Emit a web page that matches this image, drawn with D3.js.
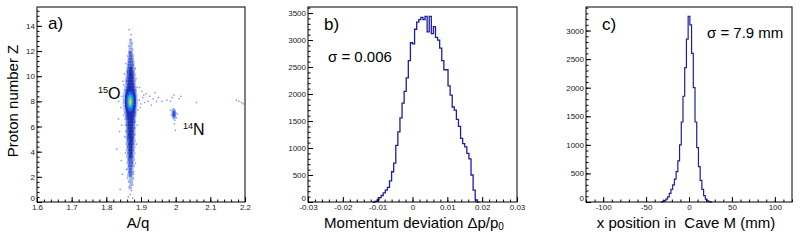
<!DOCTYPE html>
<html>
<head>
<meta charset="utf-8">
<script src="https://cdn.jsdelivr.net/npm/d3@7"></script>
<style>
  body { margin: 0; background: white; }
  svg { display: block; font-family: "Liberation Sans", Arial, sans-serif; }
</style>
</head>
<body>
<div id="my_dataviz"></div>
<script>
// ---------- data ----------

// a) particle identification, stripe of 15O drawn as rows [Z low edge, A/q left, A/q right]
const stripePale = [
  [1.00, 1.864, 1.874], [1.25, 1.866, 1.878], [1.50, 1.862, 1.876], [1.75, 1.865, 1.880],
  [2.00, 1.860, 1.877], [2.25, 1.862, 1.881], [2.50, 1.859, 1.879], [2.75, 1.861, 1.882],
  [3.00, 1.858, 1.880], [3.25, 1.860, 1.883], [3.50, 1.857, 1.881], [3.75, 1.859, 1.884],
  [4.00, 1.856, 1.882], [4.25, 1.858, 1.884], [4.50, 1.855, 1.883], [4.75, 1.857, 1.885],
  [5.00, 1.855, 1.883], [5.25, 1.856, 1.885], [5.50, 1.854, 1.884], [5.75, 1.856, 1.886],
  [6.00, 1.853, 1.884], [6.25, 1.855, 1.886], [6.50, 1.852, 1.885], [6.75, 1.853, 1.887],
  [7.00, 1.850, 1.888], [7.25, 1.849, 1.889], [7.50, 1.848, 1.890], [7.75, 1.847, 1.891],
  [8.00, 1.847, 1.891], [8.25, 1.848, 1.890], [8.50, 1.849, 1.889], [8.75, 1.850, 1.888],
  [9.00, 1.852, 1.887], [9.25, 1.854, 1.885], [9.50, 1.853, 1.886], [9.75, 1.855, 1.884],
  [10.00, 1.856, 1.885], [10.25, 1.857, 1.883], [10.50, 1.858, 1.884], [10.75, 1.859, 1.881],
  [11.00, 1.860, 1.882], [11.25, 1.861, 1.879], [11.50, 1.862, 1.880], [11.75, 1.863, 1.877],
  [12.00, 1.864, 1.878], [12.25, 1.865, 1.875], [12.50, 1.866, 1.876], [12.75, 1.867, 1.874]
];
const stripeMid = [
  [2.00, 1.866, 1.873], [2.25, 1.864, 1.875], [2.50, 1.865, 1.874], [2.75, 1.863, 1.876],
  [3.00, 1.864, 1.877], [3.25, 1.862, 1.876], [3.50, 1.863, 1.878], [3.75, 1.861, 1.877],
  [4.00, 1.862, 1.879], [4.25, 1.860, 1.878], [4.50, 1.861, 1.880], [4.75, 1.860, 1.879],
  [5.00, 1.859, 1.880], [5.25, 1.860, 1.881], [5.50, 1.858, 1.880], [5.75, 1.859, 1.882],
  [6.00, 1.857, 1.881], [6.25, 1.858, 1.883], [6.50, 1.856, 1.882], [6.75, 1.856, 1.884],
  [7.00, 1.855, 1.885], [7.25, 1.855, 1.885], [7.50, 1.854, 1.886], [7.75, 1.854, 1.886],
  [8.00, 1.854, 1.886], [8.25, 1.854, 1.886], [8.50, 1.855, 1.885], [8.75, 1.855, 1.885],
  [9.00, 1.857, 1.883], [9.25, 1.858, 1.882], [9.50, 1.857, 1.881], [9.75, 1.859, 1.881],
  [10.00, 1.860, 1.880], [10.25, 1.859, 1.879], [10.50, 1.861, 1.878], [10.75, 1.862, 1.879],
  [11.00, 1.863, 1.877], [11.25, 1.864, 1.876], [11.50, 1.866, 1.875], [11.75, 1.865, 1.873]
];
const stripeDark = [
  [3.50, 1.866, 1.873], [3.75, 1.867, 1.874], [4.00, 1.865, 1.874], [4.25, 1.866, 1.875],
  [4.50, 1.864, 1.875], [4.75, 1.866, 1.876], [5.00, 1.864, 1.876], [5.25, 1.863, 1.875],
  [5.50, 1.864, 1.877], [5.75, 1.863, 1.876], [6.00, 1.862, 1.877], [6.25, 1.863, 1.878],
  [6.50, 1.861, 1.878], [6.75, 1.860, 1.879], [7.00, 1.859, 1.881], [7.25, 1.859, 1.881],
  [7.50, 1.858, 1.881], [7.75, 1.858, 1.882], [8.00, 1.858, 1.882], [8.25, 1.858, 1.881],
  [8.50, 1.859, 1.881], [8.75, 1.859, 1.880], [9.00, 1.861, 1.879], [9.25, 1.862, 1.878],
  [9.50, 1.863, 1.877], [9.75, 1.864, 1.877], [10.00, 1.865, 1.876], [10.25, 1.866, 1.875],
  [10.50, 1.867, 1.874]
];
// hot spots [A/q, Z, half width A/q, half height Z, colour]
const hotSpots = [
  [1.869, 8.0, 0.016, 1.10, "#1a30c0"],
  [1.869, 8.0, 0.011, 0.80, "#2466e0"],
  [1.869, 8.0, 0.0075, 0.55, "#20b4e8"],
  [1.869, 8.0, 0.0045, 0.35, "#78d070"],
  [1.869, 7.95, 0.002, 0.20, "#f0e040"],
  [1.995, 7.0, 0.007, 0.45, "#8a9ee8"],
  [1.995, 7.0, 0.004, 0.25, "#3552d6"]
];
// single sparse counts [A/q, Z]
const sparsePoints = [
  [1.866, 13.7], [1.871, 13.3], [1.869, 12.9], [1.874, 12.6], [1.864, 12.4], [1.872, 12.2],
  [1.861, 11.6], [1.877, 11.4], [1.856, 11.0], [1.883, 10.6], [1.852, 10.2], [1.886, 9.8],
  [1.850, 9.3], [1.889, 9.1], [1.866, 1.2], [1.872, 0.9], [1.869, 0.6], [1.863, 0.4],
  [1.876, 0.3], [1.874, 1.6], [1.861, 1.9], [1.878, 2.2], [1.858, 2.6], [1.884, 3.1],
  [1.855, 3.9], [1.887, 4.6], [1.853, 5.2], [1.889, 6.1], [1.850, 6.9], [1.892, 7.3],
  [1.835, 6.6], [1.838, 5.6], [1.842, 7.5], [1.845, 8.4], [1.836, 8.0], [1.830, 4.2],
  [1.843, 3.3], [1.846, 2.2], [1.840, 1.0], [1.848, 9.6], [1.844, 6.1],
  [1.895, 8.1], [1.900, 7.8], [1.905, 8.3], [1.910, 7.9], [1.915, 8.6], [1.920, 8.0],
  [1.925, 8.4], [1.930, 7.7], [1.935, 8.2], [1.940, 8.7], [1.945, 8.0], [1.950, 8.3],
  [1.898, 7.5], [1.902, 8.8], [1.908, 8.5], [1.896, 9.1], [1.960, 8.0],
  [1.975, 8.1], [1.985, 8.0], [1.990, 8.3], [1.995, 8.5], [2.010, 8.2], [2.015, 8.4],
  [1.990, 7.2], [1.995, 6.8], [2.000, 7.1], [1.988, 6.9], [2.002, 6.7], [1.993, 7.4],
  [1.998, 6.5], [2.005, 7.0], [1.985, 7.3], [1.996, 6.2], [1.999, 5.7], [2.060, 7.9],
  [2.175, 8.1], [2.182, 8.0], [2.190, 7.9], [2.195, 7.8]
];

// b) momentum deviation histogram, 0.0006 wide bins from -0.0114
const momBinStart = -0.0114;
const momBinWidth = 0.0006;
const momCounts = [
  0, 10, 40, 80, 120, 170, 220, 270, 390, 560,
  720, 1050, 1300, 1560, 1830, 2050, 2300, 2620, 2950, 2930,
  3200, 3330, 3380, 3420, 3380, 3440, 3150, 3440, 3120, 3250,
  3050, 3000, 2850, 2620, 2450, 2450, 2150, 1980, 1760, 1700,
  1530, 1400, 1180, 1080, 1020, 900, 800, 500, 220, 40,
  0
];

// c) x position histogram, 2 mm bins centred on even values
const posCentres = [
  -32, -30, -28, -26, -24, -22, -20, -18, -16, -14, -12, -10, -8, -6, -4, -2,
  0, 2, 4, 6, 8, 10, 12, 14, 16, 18, 20, 22, 24, 26
];
const posCounts = [
  0, 10, 25, 50, 90, 150, 220, 300, 400, 530, 720, 1000, 1400, 1850, 2350, 2850,
  3250, 3100, 2600, 2000, 1400, 950, 620, 380, 220, 110, 50, 20, 5, 0
];

// tick labels
const ticksA = { x: [1.6, 1.7, 1.8, 1.9, 2.0, 2.1, 2.2], y: [0, 2, 4, 6, 8, 10, 12, 14] };
const ticksB = { x: [-0.03, -0.02, -0.01, 0, 0.01, 0.02, 0.03], y: [0, 500, 1000, 1500, 2000, 2500, 3000, 3500] };
const ticksC = { x: [-100, -50, 0, 50, 100], y: [0, 500, 1000, 1500, 2000, 2500, 3000] };

// ---------- drawing ----------
const W = 800, H = 241;
const frameTop = 7, frameBottom = 202;
const lineColor = "#1e1e9c";

const svg = d3.select("#my_dataviz")
    .append("svg")
    .attr("width", W)
    .attr("height", H);

// ROOT-like frame with inside ticks
function drawFrame(x, y, major, minorX, minorY, fmtX, fmtY) {
    const g = svg.append("g");
    const [x0, x1] = x.range();

    g.append("g")
        .attr("transform", `translate(0,${frameBottom})`)
        .call(d3.axisBottom(x).tickValues(minorX).tickSize(-2.5).tickFormat(""));
    g.append("g")
        .attr("transform", `translate(0,${frameBottom})`)
        .call(d3.axisBottom(x).tickValues(major.x).tickSize(-5).tickPadding(2).tickFormat(fmtX));
    g.append("g")
        .attr("transform", `translate(${x0},0)`)
        .call(d3.axisLeft(y).tickValues(minorY).tickSize(-2.5).tickFormat(""));
    const yAxis = g.append("g")
        .attr("transform", `translate(${x0},0)`)
        .call(d3.axisLeft(y).tickValues(major.y).tickSize(-5).tickPadding(2).tickFormat(fmtY));

    // lift the zero label a little, as ROOT does in the corner
    yAxis.selectAll(".tick text").filter(d => d === 0).attr("dy", "-0.25em");

    g.selectAll(".domain").remove();
    g.selectAll(".tick line").attr("stroke", "#000").attr("stroke-width", 1);
    g.selectAll(".tick text")
        .attr("font-family", "Liberation Sans, Arial, sans-serif")
        .attr("font-size", 8)
        .attr("fill", "#222");

    g.append("rect")
        .attr("x", x0).attr("y", frameTop)
        .attr("width", x1 - x0).attr("height", frameBottom - frameTop)
        .attr("fill", "none").attr("stroke", "#000").attr("stroke-width", 1);
}

function steps(a, b, step) {
    return d3.range(Math.round((b - a) / step) + 1).map(i => +(a + i * step).toFixed(6));
}

// ----- panel a -----
const xA = d3.scaleLinear().domain([1.6, 2.2]).range([37, 245]);
const yA = d3.scaleLinear().domain([0, 15.5]).range([frameBottom, frameTop]);
const rowH = 0.25;

const gA = svg.append("g");
function drawRows(rows, color) {
    gA.selectAll(null)
        .data(rows)
        .enter()
        .append("rect")
        .attr("x", d => xA(d[1]))
        .attr("y", d => yA(d[0] + rowH))
        .attr("width", d => xA(d[2]) - xA(d[1]))
        .attr("height", d => yA(d[0]) - yA(d[0] + rowH))
        .attr("fill", color);
}
drawRows(stripePale, "#a8b6ee");
drawRows(stripeMid, "#4a64d8");
drawRows(stripeDark, "#1c2fae");

gA.selectAll(null)
    .data(sparsePoints)
    .enter()
    .append("rect")
    .attr("x", d => xA(d[0]) - 0.7)
    .attr("y", d => yA(d[1]) - 0.7)
    .attr("width", 1.4)
    .attr("height", 1.4)
    .attr("fill", "#7f94e4");

gA.selectAll(null)
    .data(hotSpots)
    .enter()
    .append("ellipse")
    .attr("cx", d => xA(d[0]))
    .attr("cy", d => yA(d[1]))
    .attr("rx", d => xA(d[0] + d[2]) - xA(d[0]))
    .attr("ry", d => yA(d[1]) - yA(d[1] + d[3]))
    .attr("fill", d => d[4]);

drawFrame(xA, yA, ticksA, steps(1.6, 2.2, 0.02), steps(0, 15.2, 0.4),
    d => d === 2 ? "2" : d.toFixed(1), d3.format("d"));

// ----- panel b -----
const xB = d3.scaleLinear().domain([-0.03, 0.03]).range([308, 517]);
const yB = d3.scaleLinear().domain([0, 3612]).range([frameBottom, frameTop]);

const momPoints = momCounts.map((c, i) => [momBinStart + i * momBinWidth, c]);
momPoints.push([momBinStart + momCounts.length * momBinWidth, 0]);

svg.append("path")
    .datum(momPoints)
    .attr("fill", "none")
    .attr("stroke", lineColor)
    .attr("stroke-width", 1.3)
    .attr("d", d3.line().curve(d3.curveStepAfter).x(d => xB(d[0])).y(d => yB(d[1])));

drawFrame(xB, yB, ticksB, steps(-0.03, 0.03, 0.002), steps(0, 3600, 100),
    d => d === 0 ? "0" : d.toFixed(2), d3.format("d"));

// ----- panel c -----
const xC = d3.scaleLinear().domain([-120, 120]).range([586, 792]);
const yC = d3.scaleLinear().domain([0, 3412]).range([frameBottom, frameTop]);

const posPoints = posCentres.map((c, i) => [c - 1, posCounts[i]]);
posPoints.push([posCentres[posCentres.length - 1] + 1, 0]);

svg.append("path")
    .datum(posPoints)
    .attr("fill", "none")
    .attr("stroke", lineColor)
    .attr("stroke-width", 1.2)
    .attr("d", d3.line().curve(d3.curveStepAfter).x(d => xC(d[0])).y(d => yC(d[1])));

drawFrame(xC, yC, ticksC, steps(-120, 120, 10), steps(0, 3400, 100),
    d => String(d), d3.format("d"));

// ---------- titles and labels ----------
const titleSize = 15;
const titleY = 228;
function label(x, y, text, size, anchor) {
    return svg.append("text")
        .attr("x", x).attr("y", y)
        .attr("font-size", size)
        .attr("text-anchor", anchor || "start")
        .attr("fill", "#000")
        .text(text);
}

label(0, 0, "Proton number Z", titleSize, "middle")
    .attr("transform", "translate(18,101) rotate(-90)");
label(138, titleY, "A/q", titleSize, "middle");
label(686, titleY, "x position in  Cave M (mm)", titleSize, "middle")
    .attr("xml:space", "preserve").style("white-space", "pre");

const mom = label(414, titleY, "Momentum deviation \u0394p/p", titleSize, "middle");
mom.append("tspan").attr("font-size", 10).attr("dy", 2).text("0");

label(48, 29, "a)", 17);
label(324, 30, "b)", 17);
label(602, 30, "c)", 17);
label(328, 62, "\u03c3 = 0.006", titleSize);
label(707, 38, "\u03c3 = 7.9 mm", titleSize);

const o15 = svg.append("text").attr("x", 98).attr("y", 99).attr("font-size", 16);
o15.append("tspan").attr("font-size", 9).attr("dy", -6).text("15");
o15.append("tspan").attr("dy", 6).text("O");

const n14 = svg.append("text").attr("x", 183).attr("y", 135).attr("font-size", 16);
n14.append("tspan").attr("font-size", 9).attr("dy", -6).text("14");
n14.append("tspan").attr("dy", 6).text("N");
</script>
</body>
</html>
